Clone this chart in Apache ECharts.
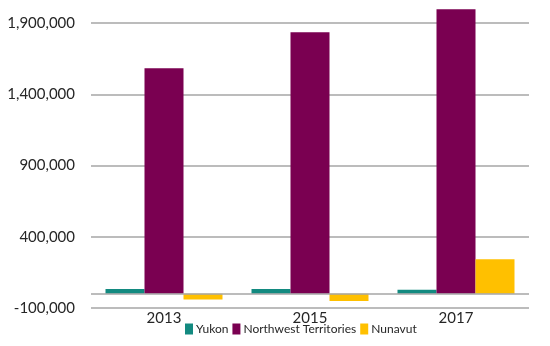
<!DOCTYPE html>
<html><head><meta charset="utf-8">
<script src="https://cdn.jsdelivr.net/npm/echarts@6/dist/echarts.min.js"></script>
<style>html,body{margin:0;padding:0;background:#fff}#c{width:550px;height:346px}</style>
</head><body><div id="c"></div>
<script>
const categories = ['2013', '2015', '2017'];
const yukon = [33000, 33000, 28000];
const nwt = [1582000, 1835000, 1996000];
const nunavut = [-41000, -50000, 242000];
const seriesNames = ['Yukon', 'Northwest Territories', 'Nunavut'];
const colors = ['#138a80', '#7a0051', '#ffc000'];

const chart = echarts.init(document.getElementById('c'), null, {renderer: 'canvas'});
const font = 'Lato, "Open Sans", sans-serif';
const mk = (name, data, color, extra) => Object.assign({
  name, type: 'bar', data, barWidth: 39, barGap: '0%', clip: false,
  itemStyle: {color}
}, extra || {});
chart.setOption({
  animation: false,
  color: colors,
  grid: {left: 91, right: 21, top: 23, bottom: 38},
  legend: {
    bottom: 6, left: 180, itemWidth: 8, itemHeight: 11, itemGap: 4, icon: 'rect',
    textStyle: {fontFamily: font, fontSize: 12, color: '#262626', padding: [0, 0, 0, -2]},
    data: seriesNames
  },
  xAxis: {
    type: 'category', data: categories,
    axisLine: {onZero: false, show: false},
    axisTick: {show: false},
    axisLabel: {fontFamily: font, fontSize: 15, color: '#262626', margin: 3}
  },
  yAxis: {
    type: 'value', min: -100000, max: 1900000, interval: 500000,
    axisLabel: {fontFamily: font, fontSize: 15, color: '#262626', margin: 16,
      formatter: v => v.toLocaleString('en-US')},
    splitLine: {lineStyle: {color: '#a6a6a6', width: 1.5}},
    axisLine: {show: false}, axisTick: {show: false}
  },
  series: [
    mk(seriesNames[0], yukon, colors[0], {
      markLine: {silent: true, symbol: 'none', label: {show: false},
        lineStyle: {color: '#a6a6a6', type: 'solid', width: 1.5},
        data: [{yAxis: 0}]}
    }),
    mk(seriesNames[1], nwt, colors[1]),
    mk(seriesNames[2], nunavut, colors[2])
  ]
});
</script></body></html>
